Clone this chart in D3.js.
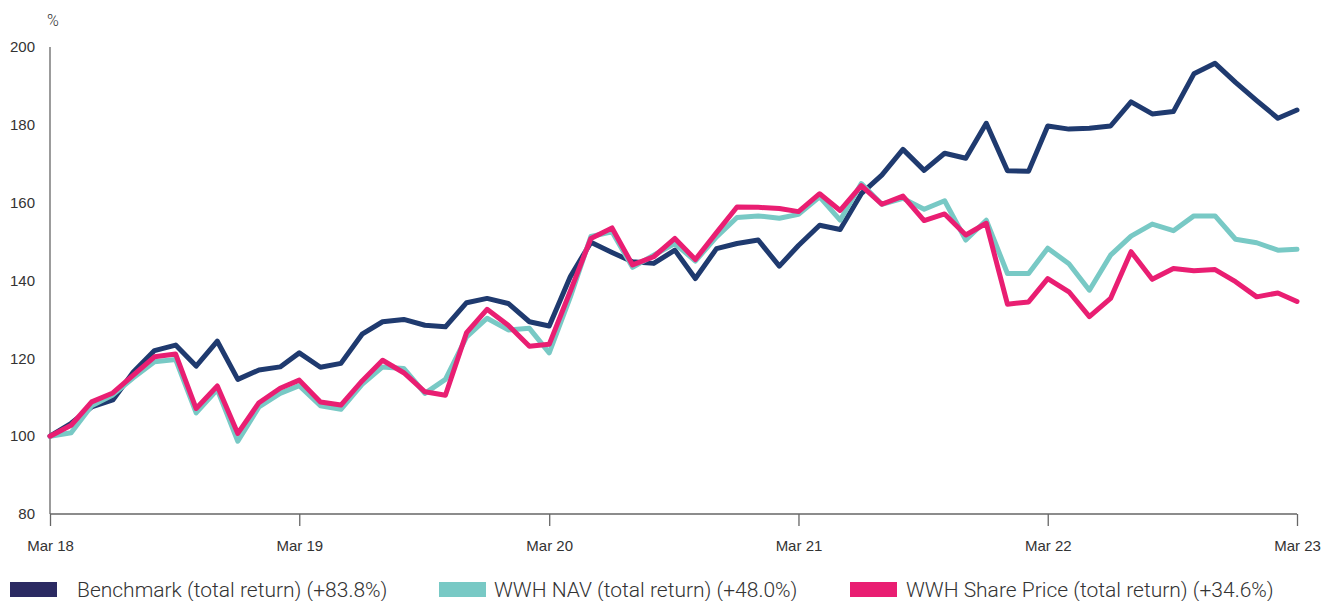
<!DOCTYPE html>
<html>
<head>
<meta charset="utf-8">
<script src="https://cdn.jsdelivr.net/npm/d3@7"></script>
<style>
  body { margin: 0; background: #fff; }
  svg { display: block; font-family: Roboto, "Noto Sans", sans-serif; }
  .axis text { font-size: 15px; font-weight: 300; fill: #333; }
  .axis path, .axis line { stroke: #666; stroke-width: 1.3; }
  .legend text { font-size: 21px; font-weight: 300; fill: #333; }
</style>
</head>
<body>
<svg id="chart"></svg>
<script>
// monthly observations, Mar 2018 .. Mar 2023 (rebased to 100)
const months = d3.timeMonth.range(new Date(2018, 2, 1), new Date(2023, 3, 1));

const benchmark = [100, 103.3, 107.5, 109.3, 116.5, 122, 123.4, 118, 124.4, 114.6, 117, 117.8,
  121.4, 117.7, 118.7, 126.2, 129.4, 130, 128.5, 128.1, 134.3, 135.4, 134.1, 129.4,
  128.3, 141, 149.8, 147.2, 144.8, 144.4, 147.8, 140.5, 148.2, 149.5, 150.4, 143.7,
  149, 154.2, 153.1, 162.3, 167.1, 173.7, 168.3, 172.7, 171.4, 180.4, 168.2, 168.1,
  179.7, 178.9, 179.1, 179.7, 185.9, 182.8, 183.4, 193.1, 195.8, 190.9, 186.2, 181.7, 183.8];

const nav = [100, 100.9, 107.8, 110.6, 115, 119.1, 119.7, 106, 112, 98.7, 107.5, 111,
  113, 107.8, 106.9, 113.3, 117.8, 117.4, 111, 114.6, 125.5, 130.3, 127.3, 127.7,
  121.4, 135.8, 151.3, 152.5, 143.4, 146.5, 149.5, 145, 151.2, 156.2, 156.6, 156,
  157, 161.5, 155.5, 164.9, 159.6, 161.1, 158.3, 160.5, 150.4, 155.5, 141.8, 141.8,
  148.3, 144.3, 137.5, 146.5, 151.4, 154.5, 152.8, 156.6, 156.6, 150.6, 149.7, 147.8, 148.0];

const sharePrice = [100, 102.8, 108.8, 111.1, 115.7, 120.4, 121.1, 107.1, 112.9, 100.7, 108.6, 112.3,
  114.4, 108.8, 108, 114.2, 119.5, 116.3, 111.4, 110.5, 126.6, 132.6, 128.5, 123.1,
  123.6, 137.3, 150.8, 153.5, 144, 146.1, 150.8, 145.4, 152.3, 158.9, 158.8, 158.5,
  157.7, 162.3, 158, 164.4, 159.6, 161.7, 155.4, 157.1, 151.7, 154.7, 133.9, 134.5,
  140.5, 137.1, 130.7, 135.4, 147.4, 140.3, 143.1, 142.5, 142.8, 139.7, 135.8, 136.8, 134.6];

const yTicks = [80, 100, 120, 140, 160, 180, 200];
const xTickLabels = ["Mar 18", "Mar 19", "Mar 20", "Mar 21", "Mar 22", "Mar 23"];

const seriesNames = ["Benchmark (total return) (+83.8%)", "WWH NAV (total return) (+48.0%)", "WWH Share Price (total return) (+34.6%)"];
const lineColors = ["#1f3a6f", "#78c9c5", "#e91e72"];
const swatchColors = ["#2b2a62", "#78c9c5", "#e91e72"];

const width = 1329;
const height = 601;
const margin = { top: 47, right: 32, bottom: 87, left: 50 };

const svg = d3.select("#chart").attr("width", width).attr("height", height);

const x = d3.scaleTime()
  .domain([months[0], months[months.length - 1]])
  .range([margin.left, width - margin.right]);
const y = d3.scaleLinear()
  .domain([80, 200])
  .range([height - margin.bottom, margin.top]);

// x axis
const yearTicks = months.filter(d => d.getMonth() === 2);
svg.append("g")
  .attr("class", "axis")
  .attr("transform", `translate(0,${height - margin.bottom})`)
  .call(d3.axisBottom(x).tickValues(yearTicks).tickSize(12).tickPadding(14)
    .tickFormat((d, i) => xTickLabels[i]))
  .call(g => g.select(".domain").attr("d", `M${margin.left},0H${width - margin.right}`));

// y axis
svg.append("g")
  .attr("class", "axis")
  .attr("transform", `translate(${margin.left},0)`)
  .call(d3.axisLeft(y).tickValues(yTicks).tickSize(0).tickPadding(15))
  .call(g => g.select(".domain").attr("d", `M0,${margin.top}V${height - margin.bottom}`));

svg.append("text")
  .attr("x", 53)
  .attr("y", 26)
  .attr("text-anchor", "middle")
  .style("font-size", "16px")
  .style("font-weight", 300)
  .style("fill", "#333")
  .text("%");

// lines
const line = d3.line()
  .x((d, i) => x(months[i]))
  .y(d => y(d));

[benchmark, nav, sharePrice].forEach((s, i) => {
  svg.append("path")
    .datum(s)
    .attr("fill", "none")
    .attr("stroke", lineColors[i])
    .attr("stroke-width", 5)
    .attr("stroke-linejoin", "round")
    .attr("stroke-linecap", "round")
    .attr("d", line);
});

// legend
const swatchX = [10, 439, 850];
const labelX = [77, 494, 906];
const legend = svg.append("g").attr("class", "legend");
seriesNames.forEach((name, i) => {
  legend.append("rect")
    .attr("x", swatchX[i])
    .attr("y", 582)
    .attr("width", 47)
    .attr("height", 15)
    .attr("fill", swatchColors[i]);
  legend.append("text")
    .attr("x", labelX[i])
    .attr("y", 597)
    .text(name);
});
</script>
</body>
</html>
